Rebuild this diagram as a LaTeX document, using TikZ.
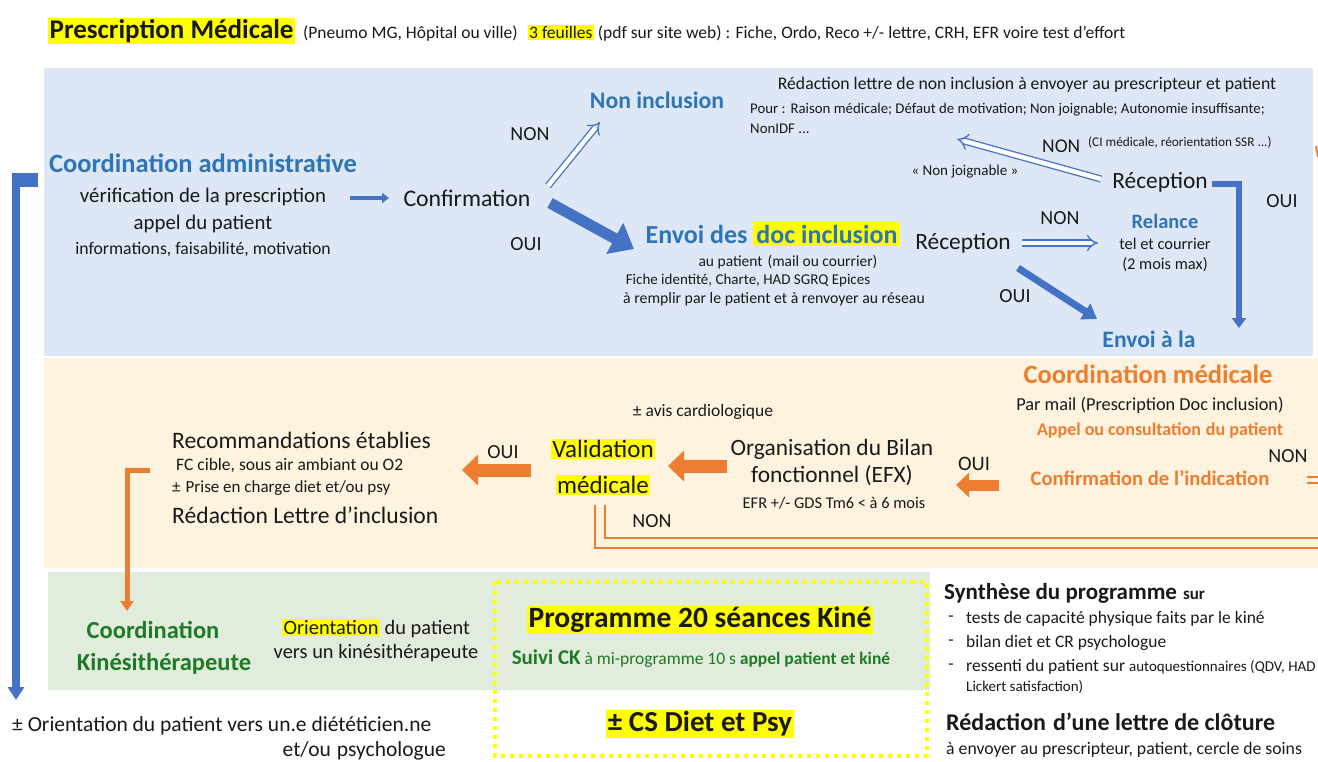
\documentclass[tikz,border=0pt]{standalone}
\usepackage{fontspec}
\setmainfont{Carlito}
\usetikzlibrary{arrows.meta}
\definecolor{bandblue}{RGB}{222,231,245}
\definecolor{bandorange}{RGB}{254,243,222}
\definecolor{bandgreen}{RGB}{225,236,221}
\definecolor{tblue}{RGB}{46,117,182}
\definecolor{ablue}{RGB}{68,114,196}
\definecolor{torange}{RGB}{237,125,49}
\definecolor{tgreen}{RGB}{30,122,36}
\definecolor{hly}{RGB}{255,255,0}
\definecolor{txt}{RGB}{25,25,25}
\newcommand\fsz[1]{\fontsize{#1}{#1}\selectfont}
\newcommand\hl[1]{{\setlength{\fboxsep}{1.5pt}\colorbox{hly}{#1}}}
\newcommand\hlb[1]{{\setlength{\fboxsep}{3pt}\colorbox{hly}{#1}}}
\begin{document}
\begin{tikzpicture}[x=1pt,y=-1pt,
  every node/.style={inner sep=0pt,text=txt},
  sz/.style={font=\fsz{#1}},
  bsz/.style={font=\fsz{#1}\bfseries},
  hollowb/.style={draw=ablue,double=white,double distance=4.5pt,line width=1.3pt,-{Implies}},
  barrow/.style={draw=ablue,line width=#1},
  oarrow/.style={draw=torange,line width=#1},
  ohollow/.style={draw=torange,double=bandorange,double distance=8.5pt,line width=1.5pt},
]
\useasboundingbox (0,0) rectangle (1318,762);
% bands
\fill[bandblue] (44,68) rectangle (1313,356);
\fill[bandorange] (44,358) rectangle (1318,568);
\fill[bandgreen] (48,572) rectangle (930,690);
\draw[hly,line width=4pt,dash pattern=on 4pt off 5pt] (495,582) rectangle (927,756);

% header
\node[anchor=west] (hdr) at (48,31) {{\fsz{27}\bfseries\hl{Prescription Médicale}}\hspace{8pt}{\fsz{17.5}(Pneumo MG, Hôpital ou ville)\hspace{10pt}\hl{3 feuilles} (pdf sur site web) : Fiche, Ordo, Reco +/- lettre, CRH, EFR voire test d’effort}};

% blue band
\node[bsz=26.5,text=tblue] (cadm) at (203,163) {Coordination administrative};
\node[sz=20.8] (verif) at (203,197) {vérification de la prescription};
\node[sz=20.8] (appel) at (203,224) {appel du patient};
\node[sz=17.7] (info) at (203,249) {informations, faisabilité, motivation};
\node[sz=23.8] (conf) at (467,198) {Confirmation};
\node[sz=20] (non1) at (530,134) {NON};
\node[sz=20] (oui1) at (526,244) {OUI};
\node[bsz=23.7,text=tblue] (noninc) at (657,100) {Non inclusion};
\node[sz=17.7] (redac) at (1027,85) {Rédaction lettre de non inclusion à envoyer au prescripteur et patient};
\node[sz=14.8,anchor=west] (pour) at (750,110) {Pour :\hspace{5pt}Raison médicale; Défaut de motivation; Non joignable; Autonomie insuffisante;};
\node[sz=14.8,anchor=west] (nonidf) at (750,129) {NonIDF ...};
\node[sz=19.5,anchor=west] (non2) at (1042,146) {NON};
\node[sz=13.3,anchor=west] (ci) at (1088,143) {(CI médicale, réorientation SSR ...)};
\node[sz=15] (nj) at (965,172) {« Non joignable »};
\node[sz=23.4] (rec2) at (1160,182) {Réception};
\node[sz=20] (oui2) at (1282,201) {OUI};
\node[bsz=26,text=tblue] (envoi) at (773,234) {Envoi des \hlb{doc inclusion}};
\node[sz=15.5] (aupat) at (788,262) {au patient\hspace{5pt}(mail ou courrier)};
\node[sz=15] (fiche) at (748,281) {Fiche identité, Charte, HAD SGRQ Epices};
\node[sz=15.8] (remp) at (774,299) {à remplir par le patient et à renvoyer au réseau};
\node[sz=23.4] (rec1) at (963,243) {Réception};
\node[sz=20] (non3) at (1060,218) {NON};
\node[bsz=20.5,text=tblue] (relance) at (1165,221) {Relance};
\node[sz=16.4] (tel) at (1165,244) {tel et courrier};
\node[sz=16.4] (mois) at (1165,265) {(2 mois max)};
\node[sz=20] (oui3) at (1015,296) {OUI};
\node[bsz=23.6,text=tblue] (envla) at (1149,339) {Envoi à la};

\coordinate (c1) at (350,198);
\coordinate (c2) at (389,198);
\draw[barrow=3.5pt,-{Triangle[length=7pt,width=10pt]}] (c1) -- (c2);
\coordinate (n1s) at (548,186);
\coordinate (n1e) at (600,122);
\draw[hollowb] (n1s) -- (n1e);
\coordinate (o1s) at (550,203);
\coordinate (o1e) at (634,249);
\draw[barrow=11pt,-{Triangle[length=22pt,width=34pt]}] (o1s) -- (o1e);
\coordinate (n2s) at (1101,179);
\coordinate (n2e) at (957,139);
\draw[hollowb] (n2s) -- (n2e);
\coordinate (n3s) at (1022,243);
\coordinate (n3e) at (1098,243);
\draw[hollowb] (n3s) -- (n3e);
\coordinate (o3s) at (1018,268);
\coordinate (o3e) at (1097,319);
\draw[barrow=7pt,-{Triangle[length=14pt,width=18pt]}] (o3s) -- (o3e);
\coordinate (e1s) at (1212,184);
\coordinate (e1e) at (1239,328);
\draw[barrow=6pt,-{Triangle[length=10pt,width=14pt]}] (e1s) -| (e1e);
% left long arrow
\coordinate (l1s) at (38,180);
\coordinate (l1e) at (16,700);
\draw[barrow=8pt,-{Triangle[length=13pt,width=16pt]}] (l1s) -| (l1e);
\fill[ablue] (12,173) rectangle (38,187);
% orange mark top right
\draw[torange,line width=2pt] (1316,146) -- (1318,157);

% orange band
\node[bsz=26.5,text=torange] (cmed) at (1148,374) {Coordination médicale};
\node[sz=18.3] (parmail) at (1150,405) {Par mail (Prescription Doc inclusion)};
\node[bsz=18,text=torange] (appcons) at (1160,431) {Appel ou consultation\hspace{5pt}du patient};
\node[sz=20] (non4) at (1288,456) {NON};
\node[bsz=20.6,text=torange] (confind) at (1150,478) {Confirmation de l’indication};
\node[sz=20.5] (oui4) at (974,464) {OUI};
\node[sz=23.4] (orgbil) at (832,449) {Organisation du Bilan};
\node[sz=23.4] (fonct) at (832,476) {fonctionnel (EFX)};
\node[sz=16.4] (efr) at (834,503) {EFR +/- GDS Tm6 < à 6 mois};
\node[sz=17.5] (avis) at (703,412) {± avis cardiologique};
\node[sz=25] (valid) at (603,449) {\hl{Validation}};
\node[sz=25] (medic) at (603,485) {\hl{médicale}};
\node[sz=20] (oui5) at (503,452) {OUI};
\node[sz=20] (non5) at (652,521) {NON};
\node[sz=23.6,anchor=west] (recom) at (172,440) {Recommandations établies};
\node[sz=17.5,anchor=west] (fc) at (176,466) {FC cible, sous air ambiant ou O2};
\node[sz=17,anchor=west] (prise) at (172,488) {±\hspace{5pt}Prise en charge diet et/ou psy};
\node[sz=23.6,anchor=west] (lettre) at (172,515) {Rédaction Lettre d’inclusion};

\coordinate (a1s) at (999,485);
\coordinate (a1e) at (956,485);
\draw[oarrow=11pt,-{Triangle[length=13pt,width=24pt]}] (a1s) -- (a1e);
\coordinate (a2s) at (727,466);
\coordinate (a2e) at (668,466);
\draw[oarrow=13pt,-{Triangle[length=16pt,width=30pt]}] (a2s) -- (a2e);
\coordinate (a3s) at (531,470);
\coordinate (a3e) at (462,470);
\draw[oarrow=13pt,-{Triangle[length=16pt,width=30pt]}] (a3s) -- (a3e);
\coordinate (a4s) at (150,470);
\coordinate (a4e) at (127,611);
\draw[oarrow=5pt,-{Triangle[length=10pt,width=13pt]}] (a4s) -| (a4e);
\coordinate (h1s) at (600,505);
\coordinate (h1e) at (1318,543);
\draw[ohollow] (h1s) |- (h1e);
\coordinate (h2s) at (1307,480);
\coordinate (h2e) at (1318,480);
\draw[draw=torange,double=bandorange,double distance=4.5pt,line width=1.3pt] (h2s) -- (h2e);

% green band
\node[bsz=24.5,text=tgreen] (ck1) at (153,630) {Coordination};
\node[bsz=24.5,text=tgreen] (ck2) at (164,664) {Kinésithérapeute};
\node[sz=20.4] (orient1) at (376,628) {\hl{Orientation} du patient};
\node[sz=20.4] (orient2) at (376,653) {vers un kinésithérapeute};
\node[bsz=29.5] (prog) at (700,620) {\hl{Programme 20 séances Kiné}};
\node[sz=17.5,text=tgreen] (suivi) at (701,659) {{\fsz{21}\bfseries Suivi CK} à mi-programme 10 s {\bfseries appel patient et kiné}};
\node[bsz=29] (cs) at (700,724) {\hl{± CS Diet et Psy}};

% below
\node[sz=21.5,anchor=west] (odiet) at (12,726) {± Orientation du patient vers un.e diététicien.ne};
\node[sz=21.5,anchor=east] (etou) at (446,751) {et/ou\hspace{6pt}psychologue};

% synthesis
\node[anchor=west,font=\bfseries] (synth) at (944,593) {{\fsz{23}Synthèse du programme}\hspace{6pt}{\fsz{17}sur}};
\node[sz=17.5] (d1) at (951,619) {-};
\node[sz=17.5,anchor=west] (b1) at (966,619) {tests de capacité physique faits par le kiné};
\node[sz=17.5] (d2) at (951,643) {-};
\node[sz=17.5,anchor=west] (b2) at (966,643) {bilan diet et CR psychologue};
\node[sz=17.5] (d3) at (951,667) {-};
\node[sz=17.5,anchor=west] (b3) at (966,667) {ressenti du patient sur {\fsz{15}autoquestionnaires (QDV, HAD}};
\node[sz=15,anchor=west] (b4) at (966,687) {Lickert satisfaction)};
\node[bsz=24,anchor=west] (clot) at (946,722) {Rédaction\hspace{7pt}d’une lettre de clôture};
\node[sz=17.7,anchor=west] (envp) at (946,750) {à envoyer au prescripteur, patient, cercle de soins};
\end{tikzpicture}
\end{document}
